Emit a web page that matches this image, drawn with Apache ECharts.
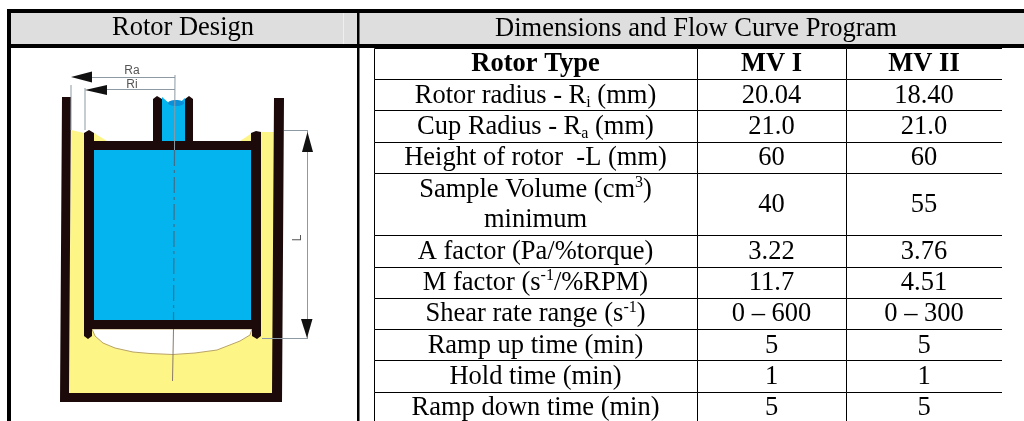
<!DOCTYPE html>
<html>
<head>
<meta charset="utf-8">
<style>html,body{margin:0;padding:0;background:#fff}#c{width:1024px;height:421px}</style>
<script src="https://cdn.jsdelivr.net/npm/echarts@6/dist/echarts.min.js"></script>
</head>
<body>
<div id="c"></div>
<script>
const headers = ['Rotor Design', 'Dimensions and Flow Curve Program'];
const columnTitles = ['Rotor Type', 'MV I', 'MV II'];
const rowLabels = [
  'Rotor radius - R{sub|i} (mm)',
  'Cup Radius - R{sub|a} (mm)',
  'Height of rotor  -L (mm)',
  'Sample Volume (cm{sup|3})\nminimum',
  'A factor (Pa/%torque)',
  'M factor (s{sup|-1}/%RPM)',
  'Shear rate range (s{sup|-1})',
  'Ramp up time (min)',
  'Hold time (min)',
  'Ramp down time (min)'
];
const mv1 = ['20.04', '21.0', '60', '40', '3.22', '11.7', '0 – 600', '5', '1', '5'];
const mv2 = ['18.40', '21.0', '60', '55', '3.76', '4.51', '0 – 300', '5', '1', '5'];
const rowSpans = [1, 1, 1, 2, 1, 1, 1, 1, 1, 1];
const colEdges = [0, 323, 472, 628];

const FONT = '"Liberation Serif","Times New Roman",serif';
const cellTexts = [];
const cells = [];
function addCell(col, row, span, text, bold) {
  cellTexts.push({ text, bold });
  cells.push([col, row, span, cellTexts.length - 1]);
}
columnTitles.forEach((t, c) => addCell(c, 0, 1, t, true));
let r = 1;
rowLabels.forEach((label, i) => {
  addCell(0, r, rowSpans[i], label, false);
  addCell(1, r, rowSpans[i], mv1[i], false);
  addCell(2, r, rowSpans[i], mv2[i], false);
  r += rowSpans[i];
});

const DARK = '#1c0a0a', YEL = '#fdf585', BLUE = '#03b4ee', GREY = '#8d9aa3';
function poly(points, fill, z, stroke) {
  return { type: 'polygon', z: z || 5, silent: true, shape: { points },
    style: stroke ? { fill, stroke, lineWidth: 1 } : { fill } };
}
function rect(x, y, w, h, fill, z) {
  return { type: 'rect', z: z || 5, silent: true, shape: { x, y, width: w, height: h }, style: { fill } };
}
function line(x1, y1, x2, y2, stroke, w, dash, z) {
  return { type: 'line', z: z || 7, silent: true, shape: { x1, y1, x2, y2 },
    style: { stroke, lineWidth: w || 1, lineDash: dash || null } };
}
function label(text, x, y, font, fill) {
  return { type: 'text', z: 10, silent: true, x, y,
    style: { text, font, fill: fill || '#000', align: 'center', verticalAlign: 'middle' } };
}
const headerFont = '26.5px ' + FONT;
const smallFont = '12px "Liberation Sans",Arial,sans-serif';
const graphics = [
  // header band and heavy rules
  rect(11, 13, 1013, 31, '#dedede', 1),
  rect(343, 13, 1, 31, '#efefef', 2),
  rect(7, 9, 1017, 4, '#000', 3),
  rect(7, 44, 1017, 4, '#000', 3),
  rect(7, 9, 4, 412, '#000', 3),
  rect(357, 13, 2.5, 408, '#000', 3),
  label(headers[0], 183, 28, headerFont),
  label(headers[1], 696, 29, headerFont),

  // cup: liquid, walls, floor
  poly([[71, 130], [84, 133], [94, 133], [107, 141], [240, 141], [252, 133], [262, 132], [274, 132], [274, 393], [69, 393]], YEL, 4),
  poly([[62, 97], [71, 97], [69, 393], [272, 393], [274, 98], [284, 98], [282, 402], [60, 402]], DARK),

  // gap below the rotor
  poly([[92, 329], [252, 329], [250, 335], [240, 341], [217, 350], [195, 353], [173, 354.5], [150, 353.5], [133, 352],
        [115, 348], [103, 343], [95, 336]], '#ffffff', 4, '#b9a468'),
  // rotor body
  poly([[84, 133], [89, 130], [94, 133], [94, 141], [153, 141], [153, 99], [157, 96], [162, 99], [162, 141],
        [185, 141], [185, 99], [189, 96], [193, 99], [193, 141], [251, 141], [251, 133], [256, 131], [261, 132],
        [261, 336], [257, 339], [252, 336], [252, 329], [92, 329], [92, 336], [88, 339], [84, 336]], DARK, 5),
  rect(94, 150, 157, 170, BLUE, 6),
  poly([[162, 97], [170, 104], [176, 106], [185, 98], [185, 141], [162, 141]], BLUE, 6),
  { type: 'ellipse', z: 6, silent: true, shape: { cx: 176, cy: 103, rx: 8, ry: 3 }, style: { fill: '#0a8fd8' } },

  // centre line
  line(175, 75, 174.5, 150, GREY, 1),
  line(174.5, 150, 173.5, 320, '#3f6f8a', 1.2, [16, 4, 3, 4]),
  line(173.5, 329, 172.5, 381, '#8a7a6a', 1),

  // Ra, Ri dimensions
  line(88, 77.5, 175, 77.5, GREY, 1),
  line(105, 89.5, 175, 89.5, GREY, 1),
  line(71, 85, 71, 130, GREY, 1),
  line(85, 88, 85, 130, GREY, 1),
  poly([[71, 77], [92, 71.5], [92, 82.5]], '#111', 8),
  poly([[85, 90], [107, 85], [107, 95]], '#111', 8),
  label('Ra', 132, 71, smallFont, '#555'),
  label('Ri', 132, 84.5, smallFont, '#555'),

  // L dimension
  line(284, 130.5, 308, 130.5, GREY, 1),
  line(262, 338.5, 308, 338.5, GREY, 1),
  line(307.5, 131, 307.5, 338, GREY, 1),
  poly([[307.5, 132], [313, 152], [302, 152]], '#111', 8),
  poly([[307, 338], [312.5, 319], [301, 319]], '#111', 8),
  { type: 'text', z: 10, silent: true, x: 298, y: 238, rotation: Math.PI / 2,
    style: { text: 'L', font: smallFont, fill: '#555', align: 'center', verticalAlign: 'middle' } }
];

function renderCell(params, api) {
  const c = api.value(0), row = api.value(1), span = api.value(2);
  const t = cellTexts[api.value(3)];
  const p0 = api.coord([colEdges[c], row]);
  const p1 = api.coord([colEdges[c + 1], row + span]);
  const fontWeight = t.bold ? 'bold' : 'normal';
  const x0 = Math.round(p0[0]), x1 = Math.round(p1[0]);
  const y0 = Math.round(p0[1]), y1 = Math.round(p1[1]);
  return {
    type: 'group',
    children: [
      { type: 'rect', shape: { x: x0 + 0.5, y: y0 + 0.5, width: x1 - x0, height: y1 - y0 },
        style: { fill: '#fff', stroke: '#000', lineWidth: 1 } },
      { type: 'text', x: (p0[0] + p1[0]) / 2, y: (p0[1] + p1[1]) / 2 + 1,
        style: { text: t.text, fontFamily: FONT, fontSize: 26.5, fontWeight, fill: '#000',
          align: 'center', verticalAlign: 'middle', lineHeight: 30,
          rich: {
            sub: { fontFamily: FONT, fontSize: 16, fill: '#000', verticalAlign: 'bottom', lineHeight: 16 },
            sup: { fontFamily: FONT, fontSize: 16, fill: '#000', verticalAlign: 'top', lineHeight: 20 }
          } } }
    ]
  };
}

const chart = echarts.init(document.getElementById('c'), null, { renderer: 'canvas' });
chart.setOption({
  animation: false,
  backgroundColor: '#fff',
  grid: { left: 374, top: 48, width: 628, height: 373 },
  xAxis: { type: 'value', min: 0, max: 628, show: false },
  yAxis: { type: 'value', min: 0, max: 11.94, inverse: true, show: false },
  graphic: graphics,
  series: [{ type: 'custom', clip: true, silent: true, data: cells, renderItem: renderCell, z: 4 }]
});
</script>
</body>
</html>
